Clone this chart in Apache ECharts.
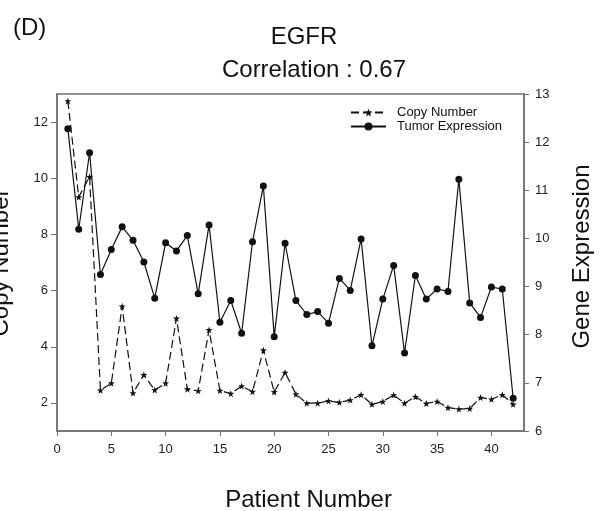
<!DOCTYPE html>
<html>
<head>
<meta charset="utf-8">
<style>
  html, body { margin: 0; padding: 0; background: #fff; }
  #chart { width: 601px; height: 511px; }
</style>
<script src="https://cdn.jsdelivr.net/npm/echarts@6/dist/echarts.min.js"></script>
</head>
<body>
<div id="chart"></div>
<script>
// Patient index on the horizontal axis
const patients = [1,2,3,4,5,6,7,8,9,10,11,12,13,14,15,16,17,18,19,20,21,
                  22,23,24,25,26,27,28,29,30,31,32,33,34,35,36,37,38,39,40,41,42];

// EGFR copy number per patient (left axis)
const copyNumber = [12.75, 9.33, 10.05, 2.45, 2.70, 5.44, 2.35, 3.00, 2.46, 2.70,
                    5.01, 2.49, 2.43, 4.60, 2.44, 2.33, 2.60, 2.40, 3.88, 2.39,
                    3.08, 2.31, 1.99, 1.99, 2.07, 2.02, 2.10, 2.29, 1.95, 2.05,
                    2.28, 1.99, 2.22, 1.98, 2.05, 1.83, 1.78, 1.80, 2.19, 2.13,
                    2.29, 1.95];

// EGFR tumor gene expression per patient (right axis)
const tumorExpression = [12.28, 10.19, 11.78, 9.25, 9.77, 10.24, 9.96, 9.51, 8.76, 9.91,
                         9.74, 10.06, 8.85, 10.28, 8.26, 8.71, 8.03, 9.93, 11.09, 7.96,
                         9.90, 8.71, 8.42, 8.48, 8.24, 9.17, 8.92, 9.99, 7.77, 8.74,
                         9.44, 7.62, 9.23, 8.74, 8.95, 8.90, 11.23, 8.66, 8.36, 8.99,
                         8.95, 6.68];

// Tick labels
const xTicks = [0, 5, 10, 15, 20, 25, 30, 35, 40];
const leftTicks = [2, 4, 6, 8, 10, 12];
const rightTicks = [6, 7, 8, 9, 10, 11, 12, 13];

const FONT = '"Liberation Sans", Arial, Helvetica, sans-serif';
const AXIS_COLOR = '#707070';
const INK = '#111';

const starPath = 'path://M0,-10L2.35,-3.24L9.51,-3.09L3.8,1.24L5.88,8.09L0,4L-5.88,8.09L-3.8,1.24L-9.51,-3.09L-2.35,-3.24Z';

const chart = echarts.init(document.getElementById('chart'), null, { renderer: 'canvas' });

const axisLine = { show: true, lineStyle: { color: AXIS_COLOR, width: 1.5 } };
const labelStyle = { color: '#222', fontSize: 13, fontFamily: FONT };

chart.setOption({
  animation: false,
  backgroundColor: '#fff',
  grid: {
    left: 57, right: 77, top: 94, bottom: 80,
    outerBoundsMode: 'none', containLabel: false,
    show: true, borderColor: AXIS_COLOR, borderWidth: 1.5
  },
  graphic: [
    { type: 'text', x: 13, y: 28,
      style: { text: '(D)', font: '24px ' + FONT, fill: INK, textAlign: 'left', textVerticalAlign: 'middle' } },
    { type: 'text', x: 304, y: 37,
      style: { text: 'EGFR', font: '24px ' + FONT, fill: INK, textAlign: 'center', textVerticalAlign: 'middle' } },
    { type: 'text', x: 314, y: 70,
      style: { text: 'Correlation : 0.67', font: '24px ' + FONT, fill: INK, textAlign: 'center', textVerticalAlign: 'middle' } }
  ],
  legend: {
    orient: 'vertical',
    left: 345, top: 101,
    itemWidth: 35, itemHeight: 10, itemGap: 1,
    textStyle: { color: INK, fontSize: 13, fontFamily: FONT, padding: [0, 0, 0, 6] },
    data: ['Copy Number', 'Tumor Expression']
  },
  xAxis: {
    type: 'value', min: 0, max: 43,
    name: 'Patient Number', nameLocation: 'middle', nameGap: 57,
    nameTextStyle: { color: INK, fontSize: 24, fontFamily: FONT, padding: [0, 0, 0, 36] },
    axisLine: axisLine,
    axisTick: { show: true, inside: false, length: 5, customValues: xTicks, lineStyle: { color: AXIS_COLOR } },
    axisLabel: Object.assign({ margin: 12, customValues: xTicks }, labelStyle),
    splitLine: { show: false }
  },
  yAxis: [
    {
      type: 'value', position: 'left', min: 1, max: 13,
      name: 'Copy Number', nameLocation: 'middle', nameGap: 44,
      nameTextStyle: { color: INK, fontSize: 24, fontFamily: FONT },
      axisLine: axisLine,
      axisTick: { show: true, length: 6, customValues: leftTicks, lineStyle: { color: AXIS_COLOR } },
      axisLabel: Object.assign({ margin: 9, customValues: leftTicks }, labelStyle),
      splitLine: { show: false }
    },
    {
      type: 'value', position: 'right', min: 6, max: 13,
      name: 'Gene Expression', nameLocation: 'middle', nameGap: 46,
      nameTextStyle: { color: INK, fontSize: 24, fontFamily: FONT, padding: [0, 0, 0, 12] },
      axisLine: axisLine,
      axisTick: { show: true, length: 5, customValues: rightTicks, lineStyle: { color: AXIS_COLOR } },
      axisLabel: Object.assign({ margin: 11, customValues: rightTicks }, labelStyle),
      splitLine: { show: false }
    }
  ],
  series: [
    {
      name: 'Copy Number', type: 'line', yAxisIndex: 0,
      data: patients.map((p, i) => [p, copyNumber[i]]),
      symbol: starPath, symbolSize: 7,
      lineStyle: { color: INK, width: 1.2, type: [8, 4] },
      itemStyle: { color: INK },
      z: 3
    },
    {
      name: 'Tumor Expression', type: 'line', yAxisIndex: 1,
      data: patients.map((p, i) => [p, tumorExpression[i]]),
      symbol: 'circle', symbolSize: 7,
      lineStyle: { color: INK, width: 1.2 },
      itemStyle: { color: INK },
      z: 2
    }
  ]
});
</script>
</body>
</html>
